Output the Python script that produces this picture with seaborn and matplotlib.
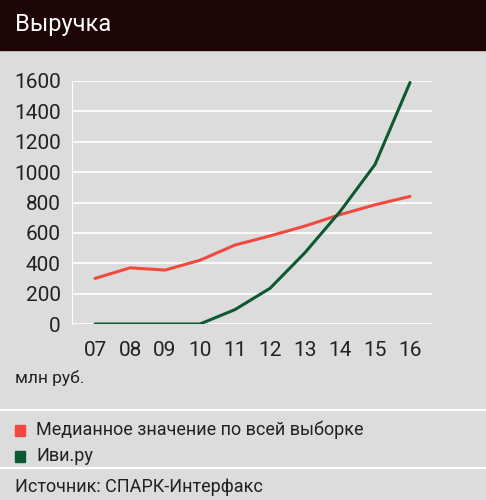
import matplotlib
matplotlib.use("Agg")
import matplotlib.pyplot as plt
import seaborn as sns
import pandas as pd
from matplotlib.lines import Line2D
from matplotlib.patches import Rectangle

years = ["07", "08", "09", "10", "11", "12", "13", "14", "15", "16"]
median_vals = [300, 370, 355, 420, 520, 580, 645, 720, 785, 840]
ivi_vals = [0, 0, 0, 0, 95, 235, 470, 740, 1050, 1590]
series_names = ["Медианное значение по всей выборке", "Иви.ру"]
colors = ["#f04a40", "#0d5a32"]

sns.set_style("white")
plt.rcParams["font.family"] = ["Roboto", "DejaVu Sans"]

bg = "#dcdcdc"
fig = plt.figure(figsize=(4.86, 5.0), dpi=100, facecolor=bg)
ax = fig.add_axes([0.148, 0.352, 0.741, 0.486])
ax.set_facecolor(bg)

df = pd.DataFrame({"x": list(range(len(years))) * 2,
                   "y": median_vals + ivi_vals,
                   "s": [series_names[0]] * 10 + [series_names[1]] * 10})
sns.lineplot(data=df, x="x", y="y", hue="s", palette=colors, linewidth=2.2,
             legend=False, ax=ax)

ax.set_xlim(-0.66, 9.63)
ax.set_ylim(0, 1600)
ax.set_yticks(range(0, 1601, 200))
ax.set_xticks(range(10))
ax.set_xticklabels(years)
ax.grid(axis="y", color="white", linewidth=1.2)
ax.set_axisbelow(True)
for s in ["top", "right", "bottom"]:
    ax.spines[s].set_visible(False)
ax.spines["left"].set_color("white")
ax.tick_params(axis="y", length=0, labelsize=15, colors="#222222", pad=8)
ax.tick_params(axis="x", length=0, labelsize=15, colors="#222222", pad=12)
ax.set_xlabel("")
ax.set_ylabel("")

# header
fig.add_artist(Rectangle((0, 0.9), 1, 0.1, transform=fig.transFigure,
                         color="#1e0505", zorder=0))
fig.text(0.03, 0.95, "Выручка", color="white", fontsize=17, va="center")
fig.text(0.03, 0.244, "млн руб.", fontsize=12.5, color="#222222", va="center")

for yy in [0.18, 0.064]:
    fig.add_artist(Line2D([0, 1], [yy, yy], transform=fig.transFigure,
                          color="white", linewidth=1.5))
for i, (name, c) in enumerate(zip(series_names, colors)):
    y = 0.14 - i * 0.052
    fig.add_artist(Rectangle((0.03, y - 0.011), 0.022, 0.022,
                             transform=fig.transFigure, color=c))
    fig.text(0.075, y, name, fontsize=13, color="#222222", va="center")
fig.text(0.03, 0.026, "Источник: СПАРК-Интерфакс", fontsize=13,
         color="#222222", va="center")

fig.savefig("out.png", dpi=100, facecolor=bg)
